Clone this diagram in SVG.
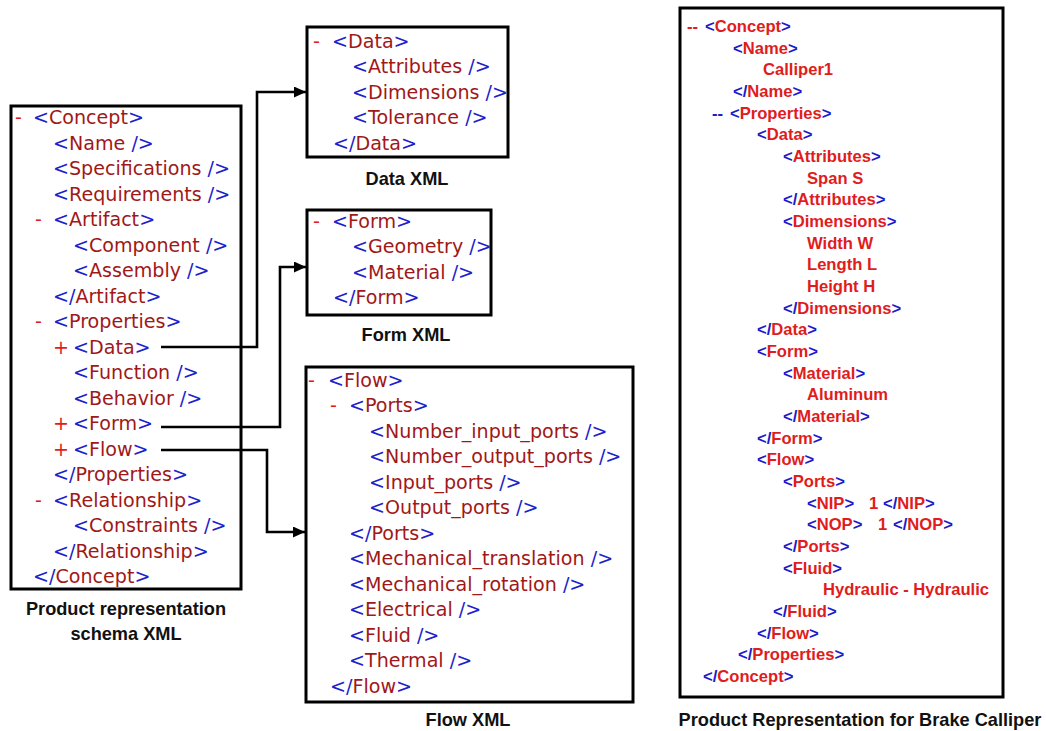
<svg xmlns="http://www.w3.org/2000/svg" width="1046" height="731" viewBox="0 0 1046 731">
<style>
.box{fill:#fff;stroke:#000;stroke-width:3}
.x{font-family:"DejaVu Sans",Verdana,sans-serif;font-size:19.1px}
.r{font-family:"Liberation Sans",Arial,sans-serif;font-size:16.6px;font-weight:bold}
.cap{font-family:"Liberation Sans",Arial,sans-serif;font-size:18.2px;font-weight:bold;fill:#111;text-anchor:middle}
.m{fill:#e21c1c}
.b{fill:#1c22cc}
.n{fill:#a01818}
.rn{fill:#e01c1c}
.rb{fill:#1c1ccc}
.con{fill:none;stroke:#000;stroke-width:2.6}
</style>
<defs>
<marker id="ah" markerUnits="userSpaceOnUse" markerWidth="13" markerHeight="11" refX="12" refY="5.5" orient="auto">
<path d="M0,0 L12,5.5 L0,11 z" fill="#000"/>
</marker>
</defs>
<rect width="1046" height="731" fill="#fff"/>

<g id="concept-schema">
<rect class="box" x="11" y="106" width="230" height="483"/>
<g class="x">
<text y="124"><tspan x="15" class="m">-</tspan><tspan x="33" class="b">&lt;</tspan><tspan class="n">Concept</tspan><tspan class="b">&gt;</tspan></text>
<text y="149.5" x="53"><tspan class="b">&lt;</tspan><tspan class="n">Name</tspan><tspan class="b"> /&gt;</tspan></text>
<text y="175" x="53"><tspan class="b">&lt;</tspan><tspan class="n">Specifications</tspan><tspan class="b"> /&gt;</tspan></text>
<text y="200.5" x="53"><tspan class="b">&lt;</tspan><tspan class="n">Requirements</tspan><tspan class="b"> /&gt;</tspan></text>
<text y="226"><tspan x="35" class="m">-</tspan><tspan x="53" class="b">&lt;</tspan><tspan class="n">Artifact</tspan><tspan class="b">&gt;</tspan></text>
<text y="251.5" x="73"><tspan class="b">&lt;</tspan><tspan class="n">Component</tspan><tspan class="b"> /&gt;</tspan></text>
<text y="277" x="73"><tspan class="b">&lt;</tspan><tspan class="n">Assembly</tspan><tspan class="b"> /&gt;</tspan></text>
<text y="302.5" x="53"><tspan class="b">&lt;/</tspan><tspan class="n">Artifact</tspan><tspan class="b">&gt;</tspan></text>
<text y="328"><tspan x="35" class="m">-</tspan><tspan x="53" class="b">&lt;</tspan><tspan class="n">Properties</tspan><tspan class="b">&gt;</tspan></text>
<text y="353.5"><tspan x="53" class="m">+</tspan><tspan x="73" class="b">&lt;</tspan><tspan class="n">Data</tspan><tspan class="b">&gt;</tspan></text>
<text y="379" x="73"><tspan class="b">&lt;</tspan><tspan class="n">Function</tspan><tspan class="b"> /&gt;</tspan></text>
<text y="404.5" x="73"><tspan class="b">&lt;</tspan><tspan class="n">Behavior</tspan><tspan class="b"> /&gt;</tspan></text>
<text y="430"><tspan x="53" class="m">+</tspan><tspan x="73" class="b">&lt;</tspan><tspan class="n">Form</tspan><tspan class="b">&gt;</tspan></text>
<text y="455.5"><tspan x="53" class="m">+</tspan><tspan x="73" class="b">&lt;</tspan><tspan class="n">Flow</tspan><tspan class="b">&gt;</tspan></text>
<text y="481" x="53"><tspan class="b">&lt;/</tspan><tspan class="n">Properties</tspan><tspan class="b">&gt;</tspan></text>
<text y="506.5"><tspan x="35" class="m">-</tspan><tspan x="53" class="b">&lt;</tspan><tspan class="n">Relationship</tspan><tspan class="b">&gt;</tspan></text>
<text y="532" x="73"><tspan class="b">&lt;</tspan><tspan class="n">Constraints</tspan><tspan class="b"> /&gt;</tspan></text>
<text y="557.5" x="53"><tspan class="b">&lt;/</tspan><tspan class="n">Relationship</tspan><tspan class="b">&gt;</tspan></text>
<text y="583" x="33"><tspan class="b">&lt;/</tspan><tspan class="n">Concept</tspan><tspan class="b">&gt;</tspan></text>
</g>
<text class="cap" x="126" y="615">Product representation</text>
<text class="cap" x="126" y="640">schema XML</text>
</g>

<g id="data-xml">
<rect class="box" x="307" y="27" width="201" height="130"/>
<g class="x">
<text y="47.5"><tspan x="313" class="m">-</tspan><tspan x="332" class="b">&lt;</tspan><tspan class="n">Data</tspan><tspan class="b">&gt;</tspan></text>
<text y="73" x="352"><tspan class="b">&lt;</tspan><tspan class="n">Attributes</tspan><tspan class="b"> /&gt;</tspan></text>
<text y="98.5" x="352"><tspan class="b">&lt;</tspan><tspan class="n">Dimensions</tspan><tspan class="b"> /&gt;</tspan></text>
<text y="124" x="352"><tspan class="b">&lt;</tspan><tspan class="n">Tolerance</tspan><tspan class="b"> /&gt;</tspan></text>
<text y="149.5" x="333"><tspan class="b">&lt;/</tspan><tspan class="n">Data</tspan><tspan class="b">&gt;</tspan></text>
</g>
<text class="cap" x="407" y="185">Data XML</text>
</g>

<g id="form-xml">
<rect class="box" x="307" y="210" width="184" height="105"/>
<g class="x">
<text y="227.5"><tspan x="313" class="m">-</tspan><tspan x="332" class="b">&lt;</tspan><tspan class="n">Form</tspan><tspan class="b">&gt;</tspan></text>
<text y="253" x="352"><tspan class="b">&lt;</tspan><tspan class="n">Geometry</tspan><tspan class="b"> /&gt;</tspan></text>
<text y="278.5" x="352"><tspan class="b">&lt;</tspan><tspan class="n">Material</tspan><tspan class="b"> /&gt;</tspan></text>
<text y="304" x="333"><tspan class="b">&lt;/</tspan><tspan class="n">Form</tspan><tspan class="b">&gt;</tspan></text>
</g>
<text class="cap" x="406" y="341">Form XML</text>
</g>

<g id="flow-xml">
<rect class="box" x="306" y="367" width="327" height="335"/>
<g class="x">
<text y="386.5"><tspan x="308" class="m">-</tspan><tspan x="328" class="b">&lt;</tspan><tspan class="n">Flow</tspan><tspan class="b">&gt;</tspan></text>
<text y="412"><tspan x="330" class="m">-</tspan><tspan x="349" class="b">&lt;</tspan><tspan class="n">Ports</tspan><tspan class="b">&gt;</tspan></text>
<text y="437.5" x="369"><tspan class="b">&lt;</tspan><tspan class="n">Number_input_ports</tspan><tspan class="b"> /&gt;</tspan></text>
<text y="463" x="369"><tspan class="b">&lt;</tspan><tspan class="n">Number_output_ports</tspan><tspan class="b"> /&gt;</tspan></text>
<text y="488.5" x="369"><tspan class="b">&lt;</tspan><tspan class="n">Input_ports</tspan><tspan class="b"> /&gt;</tspan></text>
<text y="514" x="369"><tspan class="b">&lt;</tspan><tspan class="n">Output_ports</tspan><tspan class="b"> /&gt;</tspan></text>
<text y="539.5" x="349"><tspan class="b">&lt;/</tspan><tspan class="n">Ports</tspan><tspan class="b">&gt;</tspan></text>
<text y="565" x="349"><tspan class="b">&lt;</tspan><tspan class="n">Mechanical_translation</tspan><tspan class="b"> /&gt;</tspan></text>
<text y="590.5" x="349"><tspan class="b">&lt;</tspan><tspan class="n">Mechanical_rotation</tspan><tspan class="b"> /&gt;</tspan></text>
<text y="616" x="349"><tspan class="b">&lt;</tspan><tspan class="n">Electrical</tspan><tspan class="b"> /&gt;</tspan></text>
<text y="641.5" x="349"><tspan class="b">&lt;</tspan><tspan class="n">Fluid</tspan><tspan class="b"> /&gt;</tspan></text>
<text y="667" x="349"><tspan class="b">&lt;</tspan><tspan class="n">Thermal</tspan><tspan class="b"> /&gt;</tspan></text>
<text y="692.5" x="330"><tspan class="b">&lt;/</tspan><tspan class="n">Flow</tspan><tspan class="b">&gt;</tspan></text>
</g>
<text class="cap" x="468" y="726">Flow XML</text>
</g>

<g id="brake-calliper">
<rect class="box" x="680" y="8" width="323" height="689"/>
<g class="r">
<text y="32"><tspan x="687" class="rn">--</tspan><tspan x="705" class="rb">&lt;</tspan><tspan class="rn">Concept</tspan><tspan class="rb">&gt;</tspan></text>
<text y="53.7" x="733"><tspan class="rb">&lt;</tspan><tspan class="rn">Name</tspan><tspan class="rb">&gt;</tspan></text>
<text y="75.3" x="763" class="rn">Calliper1</text>
<text y="97" x="733"><tspan class="rb">&lt;/</tspan><tspan class="rn">Name</tspan><tspan class="rb">&gt;</tspan></text>
<text y="118.7"><tspan x="712" class="rb">--</tspan><tspan x="730" class="rb">&lt;</tspan><tspan class="rn">Properties</tspan><tspan class="rb">&gt;</tspan></text>
<text y="140.4" x="757"><tspan class="rb">&lt;</tspan><tspan class="rn">Data</tspan><tspan class="rb">&gt;</tspan></text>
<text y="162" x="783"><tspan class="rb">&lt;</tspan><tspan class="rn">Attributes</tspan><tspan class="rb">&gt;</tspan></text>
<text y="183.7" x="807" class="rn">Span S</text>
<text y="205.4" x="783"><tspan class="rb">&lt;/</tspan><tspan class="rn">Attributes</tspan><tspan class="rb">&gt;</tspan></text>
<text y="227" x="783"><tspan class="rb">&lt;</tspan><tspan class="rn">Dimensions</tspan><tspan class="rb">&gt;</tspan></text>
<text y="248.7" x="807" class="rn">Width W</text>
<text y="270.4" x="807" class="rn">Length L</text>
<text y="292" x="807" class="rn">Height H</text>
<text y="313.7" x="783"><tspan class="rb">&lt;/</tspan><tspan class="rn">Dimensions</tspan><tspan class="rb">&gt;</tspan></text>
<text y="335.4" x="757"><tspan class="rb">&lt;/</tspan><tspan class="rn">Data</tspan><tspan class="rb">&gt;</tspan></text>
<text y="357" x="757"><tspan class="rb">&lt;</tspan><tspan class="rn">Form</tspan><tspan class="rb">&gt;</tspan></text>
<text y="378.7" x="783"><tspan class="rb">&lt;</tspan><tspan class="rn">Material</tspan><tspan class="rb">&gt;</tspan></text>
<text y="400.4" x="807" class="rn">Aluminum</text>
<text y="422" x="783"><tspan class="rb">&lt;/</tspan><tspan class="rn">Material</tspan><tspan class="rb">&gt;</tspan></text>
<text y="443.7" x="757"><tspan class="rb">&lt;/</tspan><tspan class="rn">Form</tspan><tspan class="rb">&gt;</tspan></text>
<text y="465.4" x="757"><tspan class="rb">&lt;</tspan><tspan class="rn">Flow</tspan><tspan class="rb">&gt;</tspan></text>
<text y="487" x="783"><tspan class="rb">&lt;</tspan><tspan class="rn">Ports</tspan><tspan class="rb">&gt;</tspan></text>
<text y="508.7"><tspan x="807" class="rb">&lt;</tspan><tspan class="rn">NIP</tspan><tspan class="rb">&gt;</tspan><tspan x="869" class="rn">1</tspan><tspan x="883" class="rb">&lt;/</tspan><tspan class="rn">NIP</tspan><tspan class="rb">&gt;</tspan></text>
<text y="530.4"><tspan x="807" class="rb">&lt;</tspan><tspan class="rn">NOP</tspan><tspan class="rb">&gt;</tspan><tspan x="878" class="rn">1</tspan><tspan x="893" class="rb">&lt;/</tspan><tspan class="rn">NOP</tspan><tspan class="rb">&gt;</tspan></text>
<text y="552" x="783"><tspan class="rb">&lt;/</tspan><tspan class="rn">Ports</tspan><tspan class="rb">&gt;</tspan></text>
<text y="573.7" x="783"><tspan class="rb">&lt;</tspan><tspan class="rn">Fluid</tspan><tspan class="rb">&gt;</tspan></text>
<text y="595.4" x="823" class="rn">Hydraulic - Hydraulic</text>
<text y="617" x="773"><tspan class="rb">&lt;/</tspan><tspan class="rn">Fluid</tspan><tspan class="rb">&gt;</tspan></text>
<text y="638.7" x="757"><tspan class="rb">&lt;/</tspan><tspan class="rn">Flow</tspan><tspan class="rb">&gt;</tspan></text>
<text y="660.4" x="738"><tspan class="rb">&lt;/</tspan><tspan class="rn">Properties</tspan><tspan class="rb">&gt;</tspan></text>
<text y="682" x="703"><tspan class="rb">&lt;/</tspan><tspan class="rn">Concept</tspan><tspan class="rb">&gt;</tspan></text>
</g>
<text class="cap" x="860" y="726">Product Representation for Brake Calliper</text>
</g>

<g id="connectors">
<path class="con" d="M161,347 H257 V92 H306" marker-end="url(#ah)"/>
<path class="con" d="M161,427 H280 V267 H306" marker-end="url(#ah)"/>
<path class="con" d="M161,450 H267 V532 H305" marker-end="url(#ah)"/>
</g>
</svg>
